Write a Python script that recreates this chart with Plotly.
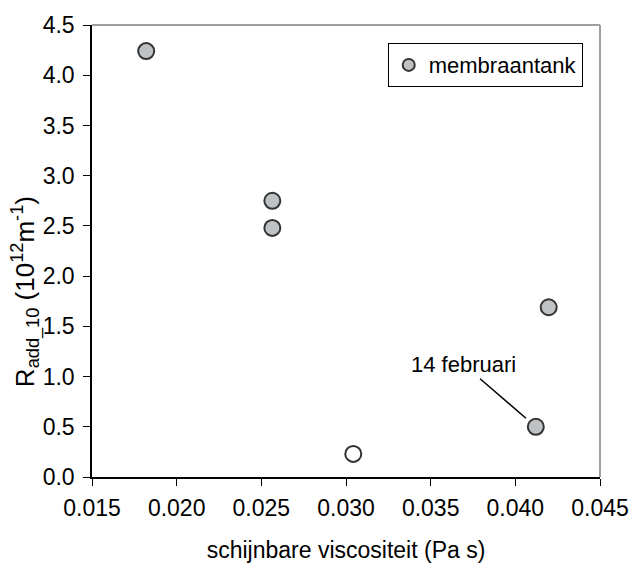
import plotly.graph_objects as go

# data
visc_membraan = [0.0182, 0.02565, 0.02565, 0.04197, 0.04121]
radd_membraan = [4.24, 2.75, 2.48, 1.69, 0.50]
visc_other = [0.03043]
radd_other = [0.23]

x_ticks = [0.015, 0.020, 0.025, 0.030, 0.035, 0.040, 0.045]
y_ticks = [0.0, 0.5, 1.0, 1.5, 2.0, 2.5, 3.0, 3.5, 4.0, 4.5]

FONT = "Liberation Sans, Arial, sans-serif"

fig = go.Figure()
fig.add_trace(go.Scatter(
    x=visc_membraan, y=radd_membraan, mode="markers", name="membraantank",
    marker=dict(size=16, color="#BEC2C5", line=dict(color="#333333", width=2)),
))
fig.add_trace(go.Scatter(
    x=visc_other, y=radd_other, mode="markers", name="overig", showlegend=False,
    marker=dict(size=16, color="#FFFFFF", line=dict(color="#333333", width=2)),
))

fig.add_annotation(
    x=visc_membraan[4], y=radd_membraan[4], text="14 februari",
    showarrow=True, arrowhead=0, arrowwidth=1.5, arrowcolor="black",
    ax=-72, ay=-62, standoff=13,
    font=dict(family=FONT, size=22, color="black"),
)

# y-axis title
fig.add_annotation(
    xref="paper", yref="paper", x=-0.131, y=0.41, xanchor="center", yanchor="middle",
    text="R<sub>add_10</sub> (10<sup>12</sup>m<sup>-1</sup>)", textangle=-90, showarrow=False,
    font=dict(family=FONT, size=26, color="black"),
)

# gray top/right frame
fig.add_shape(type="line", xref="paper", yref="paper", x0=0, x1=1, y0=1, y1=1,
              line=dict(color="#A0A0A0", width=2))
fig.add_shape(type="line", xref="paper", yref="paper", x0=1, x1=1, y0=0, y1=1,
              line=dict(color="#A0A0A0", width=2))

fig.update_layout(
    width=631, height=563,
    margin=dict(l=92, r=31, t=25, b=86, autoexpand=False),
    paper_bgcolor="white", plot_bgcolor="white",
    font=dict(family=FONT, size=23, color="black"),
    showlegend=True,
    legend=dict(
        x=0.966, y=0.96, xanchor="right", yanchor="top",
        bordercolor="black", borderwidth=1, bgcolor="white",
        font=dict(family=FONT, size=22, color="black"),
        itemsizing="constant",
    ),
    xaxis=dict(
        range=[0.015, 0.045], tickvals=x_ticks,
        ticktext=[f"{v:.3f}" for v in x_ticks],
        showgrid=False, zeroline=False, showline=True, linecolor="black", linewidth=1.5,
        ticks="outside", ticklen=7, tickcolor="black", tickwidth=1.2,
        ticklabelstandoff=3, automargin=False,
        tickfont=dict(family=FONT, size=23),
        title=dict(text="schijnbare viscositeit (Pa s)", font=dict(family=FONT, size=23), standoff=28),
    ),
    yaxis=dict(
        range=[0, 4.5], tickvals=y_ticks,
        ticktext=[f"{v:.1f}" for v in y_ticks],
        showgrid=False, zeroline=False, showline=True, linecolor="black", linewidth=1.5,
        ticks="outside", ticklen=7, tickcolor="black", tickwidth=1.2,
        ticklabelstandoff=4, automargin=False,
        tickfont=dict(family=FONT, size=23),
    ),
)

fig.write_html("out.html")
